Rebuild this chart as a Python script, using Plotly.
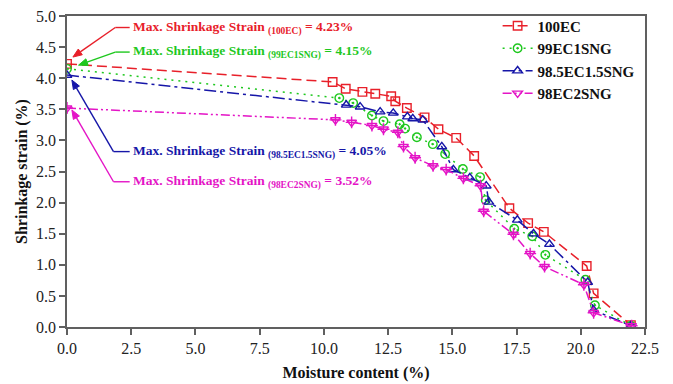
import math
import plotly.graph_objects as go

# Moisture content (%) and shrinkage strain (%) for each mix
mc_100ec = [0, 10.34, 10.85, 11.50, 12.00, 12.62, 12.78, 13.23, 13.92, 14.46, 15.15, 15.85,
            17.22, 17.95, 18.56, 20.23, 20.50, 21.95]
ss_100ec = [4.23, 3.94, 3.83, 3.78, 3.75, 3.71, 3.63, 3.52, 3.37, 3.18, 3.04, 2.75,
            1.91, 1.67, 1.53, 0.98, 0.54, 0.03]

mc_99ec = [0, 10.60, 11.14, 11.87, 12.32, 12.95, 13.16, 13.62, 14.24, 14.72, 15.41, 16.08,
           16.30, 17.41, 18.11, 18.62, 20.18, 20.55, 21.95]
ss_99ec = [4.15, 3.68, 3.60, 3.40, 3.31, 3.26, 3.19, 3.05, 2.94, 2.78, 2.54, 2.41,
           2.04, 1.58, 1.46, 1.16, 0.76, 0.35, 0.02]

mc_985ec = [0, 10.87, 11.41, 12.19, 12.70, 13.25, 13.46, 13.85, 14.59, 15.04, 15.68, 16.32,
            16.42, 17.53, 18.16, 18.78, 20.27, 20.50, 21.95]
ss_985ec = [4.05, 3.57, 3.54, 3.46, 3.44, 3.38, 3.35, 3.33, 2.90, 2.53, 2.40, 2.27,
            2.01, 1.72, 1.50, 1.33, 0.72, 0.27, 0.02]

mc_98ec = [0, 10.45, 11.08, 11.87, 12.32, 12.88, 13.10, 13.55, 14.25, 14.76, 15.43, 16.10,
           16.22, 17.38, 18.03, 18.59, 20.12, 20.50, 21.98]
ss_98ec = [3.52, 3.33, 3.29, 3.24, 3.18, 3.13, 2.90, 2.72, 2.59, 2.53, 2.39, 2.27,
           1.86, 1.49, 1.18, 0.97, 0.68, 0.23, 0.02]

names = ["100EC", "99EC1SNG", "98.5EC1.5SNG", "98EC2SNG"]
sub_names = ["(100EC)", "(99EC1SNG)", "(98.5EC1.5SNG)", "(98EC2SNG)"]

x_ticks = [0, 2.5, 5, 7.5, 10, 12.5, 15, 17.5, 20, 22.5]
y_ticks = [0, 0.5, 1, 1.5, 2, 2.5, 3, 3.5, 4, 4.5, 5]

RED = "#e8202a"
GREEN = "#1ec81e"
BLUE = "#1616a8"
MAGENTA = "#e414c6"
SERIF = "Liberation Serif, Times New Roman, serif"

W, H = 673, 384
M_L, M_R, M_T, M_B = 67, 28, 16, 57
X_RANGE = (0, 22.5)
Y_RANGE = (0, 5)
PX_PER_X = (W - M_L - M_R) / (X_RANGE[1] - X_RANGE[0])
PX_PER_Y = (H - M_T - M_B) / (Y_RANGE[1] - Y_RANGE[0])

series = [
    (mc_100ec, ss_100ec, RED, "10px,5px", "square-open"),
    (mc_99ec, ss_99ec, GREEN, "2px,5px", "circle-open-dot"),
    (mc_985ec, ss_985ec, BLUE, "12px,4px,3px,4px", "triangle-up-open"),
    (mc_98ec, ss_98ec, MAGENTA, "9px,3px,2px,3px,2px,3px", "triangle-down-open"),
]

fig = go.Figure()
for (xs, ys, col, dash, sym), name in zip(series, names):
    fig.add_trace(go.Scatter(
        x=xs, y=ys, name=name, mode="lines+markers",
        line=dict(color=col, width=1.5, dash=dash),
        marker=dict(symbol=sym, size=8.5, color=col, line=dict(color=col, width=1.4)),
    ))

# cross drawn through the inverted triangles of the 2% SNG mix
fig.add_trace(go.Scatter(
    x=mc_98ec, y=ss_98ec, mode="markers", showlegend=False, hoverinfo="skip",
    marker=dict(symbol="cross-thin-open", size=8.5, color=MAGENTA,
                line=dict(color=MAGENTA, width=1.4)),
))


def leader(tail, tip, col, head_len=9.0, head_half=3.5):
    """Straight leader line ending in a filled arrowhead, in data coordinates."""
    # work in pixel space so the head keeps its shape
    tx, ty = tail[0] * PX_PER_X, tail[1] * PX_PER_Y
    hx, hy = tip[0] * PX_PER_X, tip[1] * PX_PER_Y
    dx, dy = hx - tx, hy - ty
    n = math.hypot(dx, dy)
    ux, uy = dx / n, dy / n
    bx, by = hx - ux * head_len, hy - uy * head_len
    px, py = -uy * head_half, ux * head_half
    to_d = lambda a, b: (a / PX_PER_X, b / PX_PER_Y)
    b = to_d(bx, by)
    l = to_d(bx + px, by + py)
    r = to_d(bx - px, by - py)
    line = dict(type="line", xref="x", yref="y", x0=tail[0], y0=tail[1], x1=b[0], y1=b[1],
                line=dict(color=col, width=1.4))
    head = dict(type="path", xref="x", yref="y",
                path=f"M {tip[0]},{tip[1]} L {l[0]},{l[1]} L {r[0]},{r[1]} Z",
                fillcolor=col, line=dict(color=col, width=1))
    return [line, head]


# Call-outs for the maximum shrinkage strain of each mix
callouts = [
    # (series index, arrow tip offset, elbow point, text anchor)
    (0, (0.23, 0.11), (1.88, 4.815), (2.48, 4.815)),
    (1, (0.45, 0.06), (1.88, 4.42), (2.48, 4.42)),
    (2, (0.19, -0.08), (1.81, 2.82), (2.48, 2.82)),
    (3, (0.19, -0.03), (1.81, 2.335), (2.48, 2.335)),
]
annotations = []
shapes = []
for idx, (dx, dy), (ex, ey), (tx, ty) in callouts:
    xs, ys, col = series[idx][0], series[idx][1], series[idx][2]
    shapes += leader((ex, ey), (xs[0] + dx, ys[0] + dy), col)
    shapes.append(dict(type="line", xref="x", yref="y", x0=ex, y0=ey, x1=tx - 0.04, y1=ty,
                       line=dict(color=col, width=1.4)))
    annotations.append(dict(
        x=tx, y=ty, xref="x", yref="y", xanchor="left", yanchor="middle",
        showarrow=False,
        text=f"Max. Shrinkage Strain <sub>{sub_names[idx]}</sub> = {ys[0]:.2f}%",
        font=dict(family=SERIF, size=13.5, color=col, weight="bold"),
    ))

AXIS_COL = "#606060"
fig.update_layout(
    width=W, height=H,
    margin=dict(l=M_L, r=M_R, t=M_T, b=M_B, autoexpand=False),
    paper_bgcolor="white", plot_bgcolor="white",
    font=dict(family=SERIF, size=16, color="#222222"),
    showlegend=True,
    legend=dict(
        x=0.745, y=1.021, xanchor="left", yanchor="top",
        bgcolor="rgba(0,0,0,0)", borderwidth=0,
        font=dict(family=SERIF, size=15, color="#111111", weight="bold"),
        tracegroupgap=0, itemwidth=30,
    ),
    annotations=annotations,
    shapes=shapes,
    xaxis=dict(
        range=list(X_RANGE), tickvals=x_ticks, tickformat=".1f", automargin=False,
        showgrid=False, zeroline=False,
        showline=True, linecolor=AXIS_COL, linewidth=1.5, mirror=True,
        ticks="outside", ticklen=6, tickwidth=1.5, tickcolor=AXIS_COL,
        tickfont=dict(family=SERIF, size=16, color="#222222"),
        title=dict(text="Moisture content (%)", standoff=11,
                   font=dict(family=SERIF, size=16, color="#111111", weight="bold")),
    ),
    yaxis=dict(
        range=list(Y_RANGE), tickvals=y_ticks, tickformat=".1f", automargin=False,
        showgrid=False, zeroline=False,
        showline=True, linecolor=AXIS_COL, linewidth=1.5, mirror=True,
        ticks="outside", ticklen=6, tickwidth=1.5, tickcolor=AXIS_COL,
        tickfont=dict(family=SERIF, size=16, color="#222222"),
        title=dict(text="Shrinkage strain (%)", standoff=4,
                   font=dict(family=SERIF, size=16, color="#111111", weight="bold")),
    ),
)

fig.write_html("out.html")
